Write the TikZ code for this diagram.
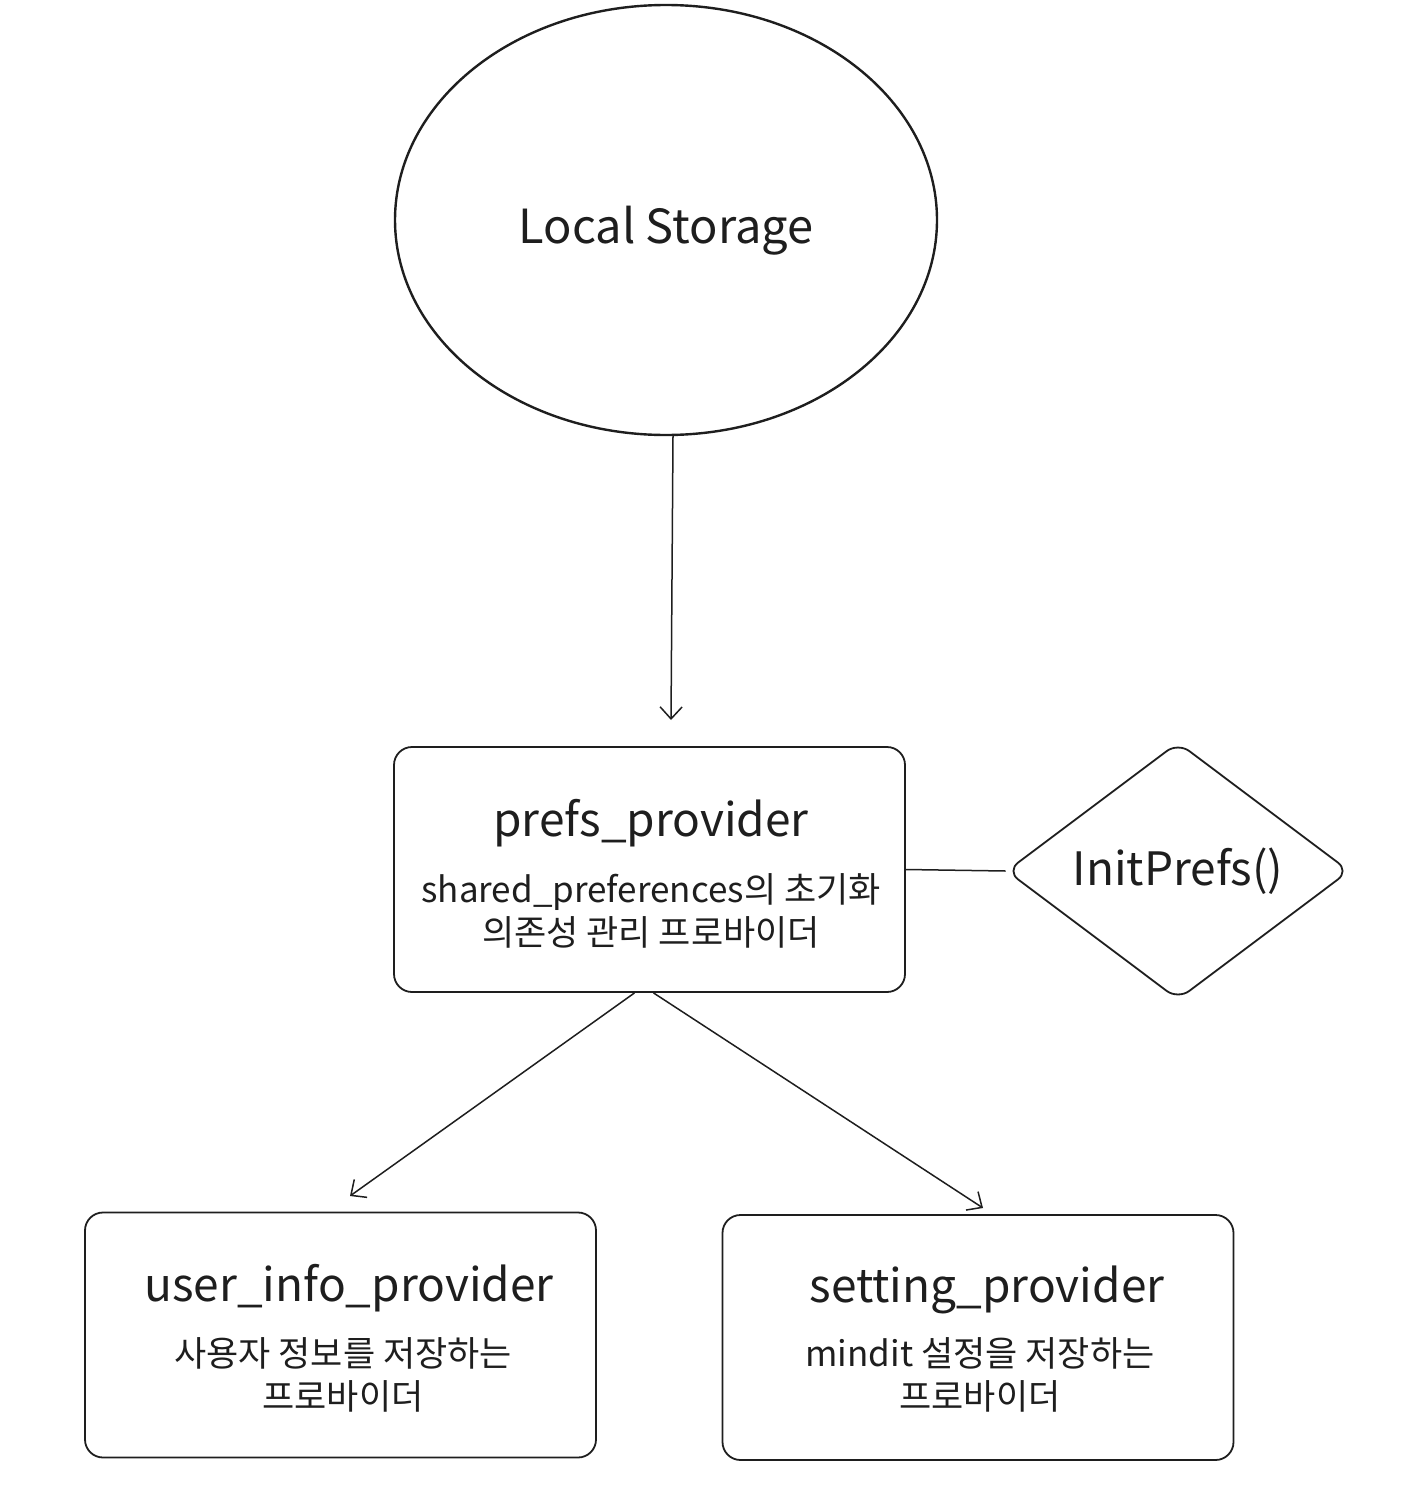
\documentclass[tikz,border=0pt]{standalone}
\usepackage{fontspec}
\setmainfont{Noto Sans CJK KR}
\usetikzlibrary{shapes.geometric,arrows.meta}
\definecolor{ink}{HTML}{1E1E1E}
\tikzset{
  shapebox/.style={draw=ink, line width=1.8pt, rectangle, rounded corners=18pt, minimum width=511pt, minimum height=245pt, inner sep=0pt},
  titletxt/.style={text=ink, font=\fontsize{46}{54}\selectfont, inner sep=0pt},
  desctxt/.style={text=ink, font=\fontsize{35}{43}\selectfont, align=center, inner sep=0pt},
  arr/.style={draw=ink, line width=1.5pt, -{Straight Barb[length=12pt,width=22pt,line width=1.5pt]}},
  conn/.style={draw=ink, line width=1.5pt}
}
\begin{document}
\begin{tikzpicture}[x=1pt,y=-1pt]
\useasboundingbox (0,0) rectangle (1420,1504);
% Local storage
\node[draw=ink, line width=2.4pt, ellipse, minimum width=542pt, minimum height=430pt, inner sep=0pt] (ls) at (666,220) {};
\node[text=ink, font=\fontsize{47}{55}\selectfont, inner sep=0pt] (lst) at (666,231) {Local Storage};
% prefs provider
\node[shapebox] (pp) at (649.5,869.5) {};
\node[titletxt] (ppt) at (651,823) {prefs\_provider};
\node[desctxt] (ppd) at (651,911) {shared\_preferences의 초기화\\의존성 관리 프로바이더};
% InitPrefs
\node[draw=ink, line width=1.8pt, diamond, rounded corners=14pt, minimum width=343pt, minimum height=243pt, inner sep=0pt, text=ink, font=\fontsize{46}{54}\selectfont] (ip) at (1178,871) {InitPrefs()};
% bottom boxes
\node[shapebox] (ui) at (340.5,1335) {};
\node[titletxt] (uit) at (349,1288) {user\_info\_provider};
\node[desctxt] (uid) at (343,1375) {사용자 정보를 저장하는\\프로바이더};
\node[shapebox] (sp) at (978,1337.5) {};
\node[titletxt] (spt) at (987,1290) {setting\_provider};
\node[desctxt] (spd) at (980,1375) {mindit 설정을 저장하는\\프로바이더};
% connectors
\coordinate (a1) at (671,720);
\coordinate (a2) at (350,1196);
\coordinate (a3) at (983,1208);
\draw[arr] ([xshift=7pt]ls.south) -- (a1);
\draw[conn] (pp.east) -- (ip.west);
\draw[arr] ([xshift=-15pt]pp.south) -- (a2);
\draw[arr] ([xshift=4pt]pp.south) -- (a3);
\end{tikzpicture}
\end{document}
